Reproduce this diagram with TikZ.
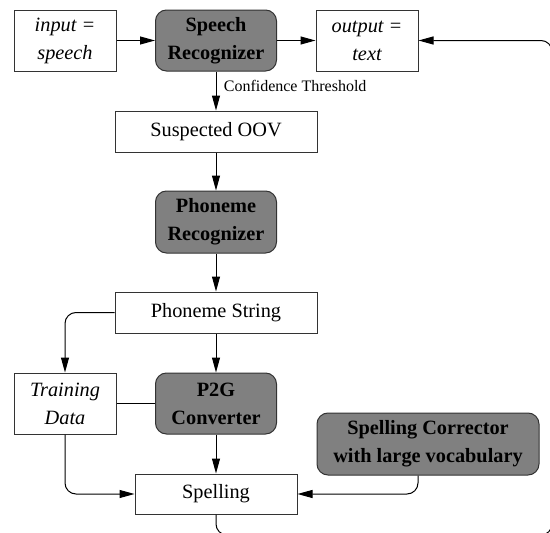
\documentclass[tikz,border=0pt]{standalone}
\usepackage{fontspec}
\setmainfont{Liberation Serif}
\usetikzlibrary{arrows.meta}
\newcommand{\boxfont}{\fontsize{20.3}{28}\selectfont}
\tikzset{
  >={Triangle[length=15pt,width=8pt]},
}
\tikzstyle{every node}=[font=\boxfont]
\tikzstyle{plain}=[draw=black!80,line width=1pt,fill=white,align=center,inner sep=0pt]
\tikzstyle{emph}=[plain,font=\boxfont\itshape]
\tikzstyle{module}=[plain,fill=black!50,rounded corners=11pt,font=\boxfont\bfseries]
\tikzstyle{flow}=[->,line width=1pt]

\begin{document}
\begin{tikzpicture}[x=1pt,y=-1pt]
  \useasboundingbox (0,0) rectangle (550,533);
  \clip (0,0) rectangle (550,533);
  % top row
  \node[emph,minimum width=102pt,minimum height=61pt] (in) at (65,40.5) {input =\\speech};
  \node[module,minimum width=121pt,minimum height=61pt] (speech) at (216,40.5) {Speech\\Recognizer};
  \node[emph,minimum width=102pt,minimum height=61pt] (out) at (367,40.5) {output =\\text};
  % middle column
  \node[plain,minimum width=202pt,minimum height=41pt] (oov) at (216,131.5) {Suspected OOV};
  \node[module,minimum width=121pt,minimum height=62pt] (prec) at (216,222) {Phoneme\\Recognizer};
  \node[plain,minimum width=202pt,minimum height=41pt] (pstr) at (216,312.5) {Phoneme String};
  \node[emph,minimum width=102pt,minimum height=61pt] (train) at (65,403.5) {Training\\Data};
  \node[module,minimum width=121pt,minimum height=61pt] (p2g) at (216,403.5) {P2G\\Converter};
  \node[module,minimum width=222pt,minimum height=62pt] (corr) at (428,444) {Spelling Corrector\\with large vocabulary};
  \node[plain,minimum width=162pt,minimum height=40pt] (spell) at (216,494) {Spelling};
  \coordinate (rt) at (552,535);

  \draw[flow] (in) -- (speech);
  \draw[flow] (speech) -- (out);
  \draw[flow] (speech) -- node[right,pos=0.38,xshift=4pt,font=\fontsize{16}{18}\selectfont]{Confidence Threshold} (oov);
  \draw[flow] (oov) -- (prec);
  \draw[flow] (prec) -- (pstr);
  \draw[flow,rounded corners=11pt] (pstr) -| (train);
  \draw[flow] (pstr) -- (p2g);
  \draw[line width=1pt] (train) -- (p2g);
  \draw[flow,rounded corners=11pt] (train) |- (spell);
  \draw[flow] (p2g) -- (spell);
  \draw[flow,rounded corners=11pt] ([xshift=-10pt]corr.south) |- (spell);
  \draw[flow,rounded corners=11pt] (spell) |- (rt) |- (out);
\end{tikzpicture}
\end{document}
